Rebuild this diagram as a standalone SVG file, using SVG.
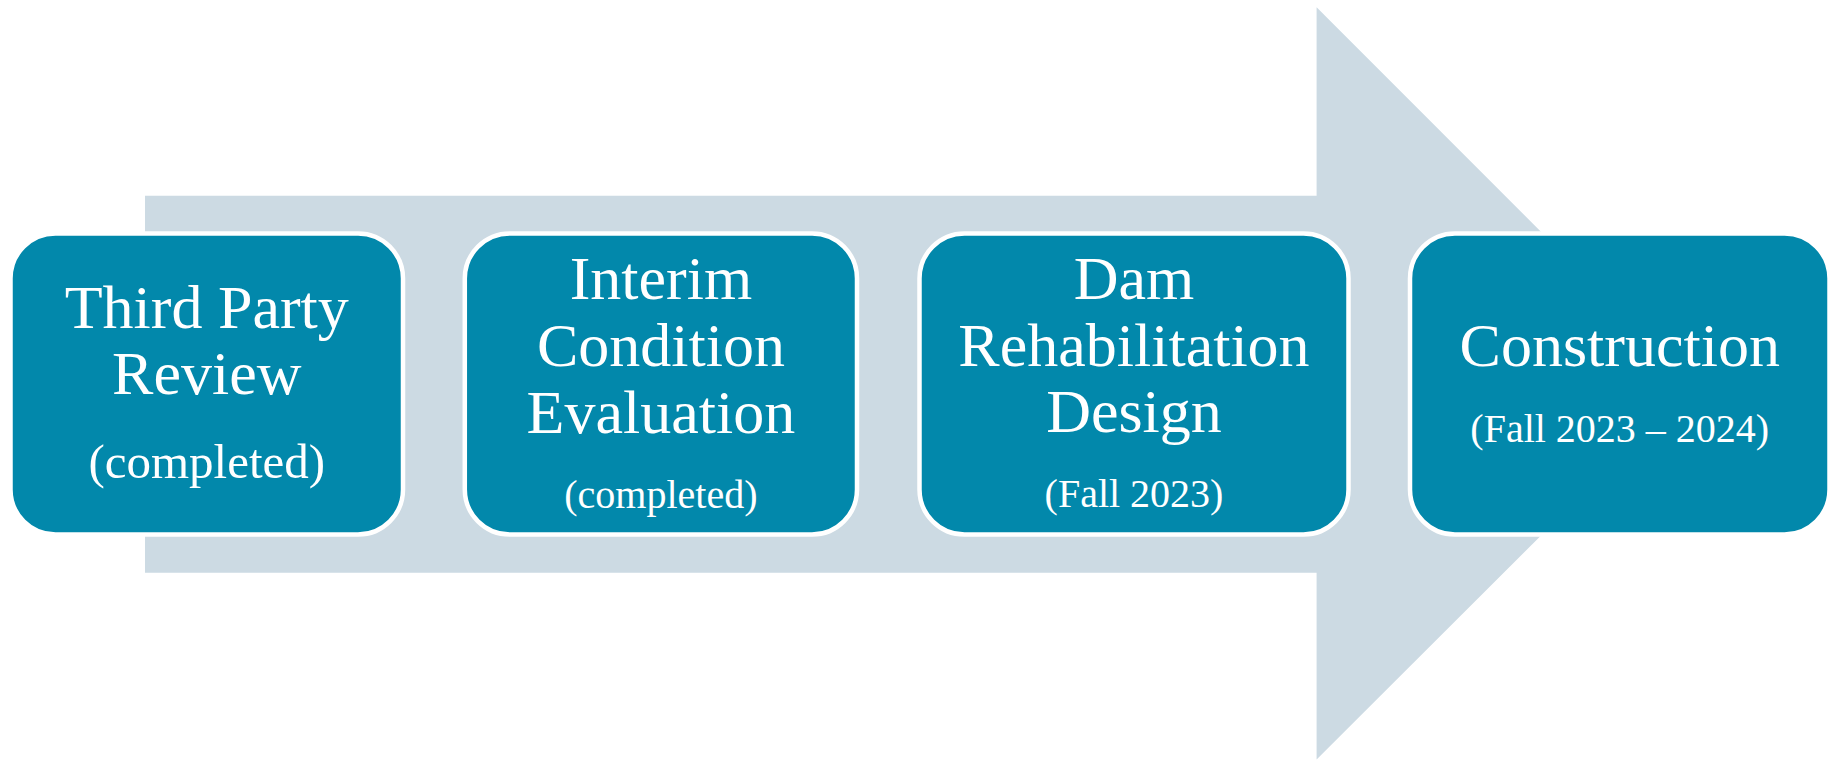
<svg xmlns="http://www.w3.org/2000/svg" width="1835" height="760" viewBox="0 0 1835 760">
  <style>
    .step { fill: #0288ab; stroke: #ffffff; stroke-width: 4.5; }
    .title { font-family: "Liberation Serif", "Times New Roman", serif; font-size: 62px; fill: #ffffff; text-anchor: middle; }
    .note { font-family: "Liberation Serif", "Times New Roman", serif; font-size: 40px; fill: #ffffff; text-anchor: middle; }
    .note-lg { font-size: 49px; }
  </style>
  <rect width="1835" height="760" fill="#ffffff"/>

  <!-- broad backdrop arrow running left to right behind the steps -->
  <g id="connectors">
    <polygon points="145,195.7 1316.6,195.7 1316.6,7.3 1693,384 1316.6,759.5 1316.6,572.7 145,572.7" fill="#ccdae3"/>
  </g>

  <g id="step-third-party-review">
    <rect class="step" x="10.5" y="233.5" width="392.5" height="301" rx="45" ry="45"/>
    <text class="title" x="206.75" y="328.3">Third Party</text>
    <text class="title" x="206.75" y="394.3">Review</text>
    <text class="note note-lg" x="206.75" y="477.7">(completed)</text>
  </g>

  <g id="step-interim-condition-evaluation">
    <rect class="step" x="464.8" y="233.5" width="392.2" height="301" rx="45" ry="45"/>
    <text class="title" x="660.9" y="299.3">Interim</text>
    <text class="title" x="660.9" y="366">Condition</text>
    <text class="title" x="660.9" y="432.7">Evaluation</text>
    <text class="note" x="660.9" y="508.3">(completed)</text>
  </g>

  <g id="step-dam-rehabilitation-design">
    <rect class="step" x="919.5" y="233.5" width="429" height="301" rx="45" ry="45"/>
    <text class="title" x="1134" y="299">Dam</text>
    <text class="title" x="1134" y="365.7">Rehabilitation</text>
    <text class="title" x="1134" y="432.3">Design</text>
    <text class="note" x="1134" y="507.3">(Fall 2023)</text>
  </g>

  <g id="step-construction">
    <rect class="step" x="1410" y="233.5" width="419.5" height="301" rx="45" ry="45"/>
    <text class="title" x="1619.75" y="365.7">Construction</text>
    <text class="note" x="1619.75" y="442.3">(Fall 2023 – 2024)</text>
  </g>
</svg>
